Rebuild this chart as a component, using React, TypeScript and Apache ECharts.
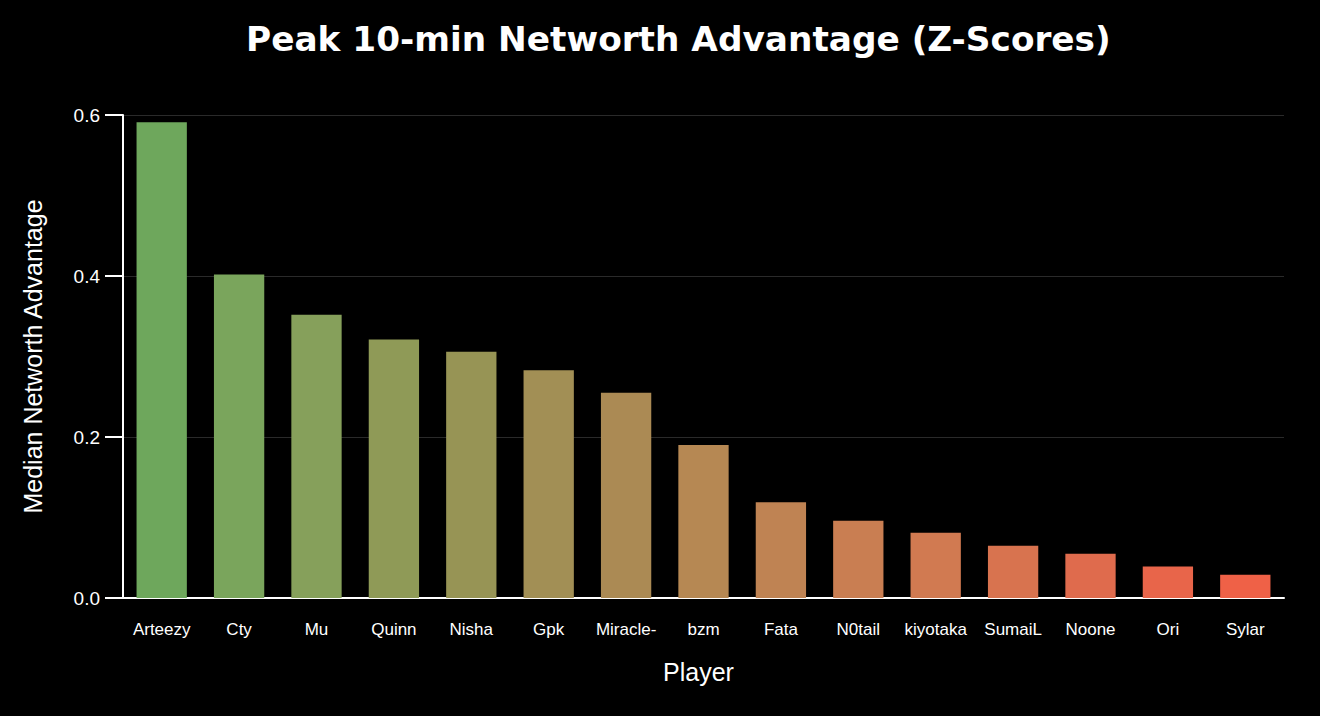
import React, { useEffect, useRef } from "react";
import * as echarts from "echarts";

const players = ["Arteezy", "Cty", "Mu", "Quinn", "Nisha", "Gpk", "Miracle-", "bzm", "Fata", "N0tail", "kiyotaka", "SumaiL", "Noone", "Ori", "Sylar"];
const medianAdvantage = [0.591, 0.402, 0.352, 0.321, 0.306, 0.283, 0.255, 0.19, 0.119, 0.096, 0.081, 0.065, 0.055, 0.039, 0.029];
const barColors = ["#6ea75c", "#7aa55c", "#86a05b", "#8f9a57", "#979455", "#a28f55", "#ab8a54", "#b68853", "#bf8353", "#c97e52", "#d17a51", "#d8734f", "#df6b4d", "#e8654a", "#ef6147"];
const yTicks = [0, 0.2, 0.4, 0.6];

export default function App() {
  const ref = useRef<HTMLDivElement>(null);
  useEffect(() => {
    document.body.style.margin = "0";
    document.body.style.background = "#000";
    const chart = echarts.init(ref.current!, null, { renderer: "svg" });
    chart.setOption({
      animation: false,
      backgroundColor: "#000000",
      title: {
        text: "Peak 10-min Networth Advantage (Z-Scores)",
        left: 241,
        top: 17,
        textStyle: { color: "#ffffff", fontFamily: "DejaVu Sans", fontWeight: "bold", fontSize: 34.3 },
      },
      grid: { left: 123, right: 36, top: 115, bottom: 118 },
      xAxis: {
        type: "category",
        data: players,
        name: "Player",
        nameLocation: "middle",
        nameGap: 61,
        nameTextStyle: { color: "#ffffff", fontFamily: "Liberation Sans", fontSize: 25, padding: [0, 10, 0, 0] },
        axisLine: { lineStyle: { color: "#ffffff", width: 2 } },
        axisTick: { show: false },
        axisLabel: { color: "#ffffff", fontFamily: "Liberation Sans", fontSize: 17, margin: 23, interval: 0 },
      },
      yAxis: {
        type: "value",
        min: 0,
        max: yTicks[yTicks.length - 1],
        interval: 0.2,
        name: "Median Networth Advantage",
        nameLocation: "middle",
        nameGap: 78,
        nameTextStyle: { color: "#ffffff", fontFamily: "Liberation Sans", fontSize: 25 },
        axisLine: { show: true, lineStyle: { color: "#ffffff", width: 2 } },
        axisTick: { show: true, length: 18, lineStyle: { color: "#ffffff", width: 2 } },
        axisLabel: { color: "#ffffff", fontFamily: "Liberation Sans", fontSize: 19, margin: 23, formatter: (v: number) => v.toFixed(1) },
        splitLine: { show: true, lineStyle: { color: "#2a2a2a", width: 1 } },
      },
      series: [
        {
          type: "bar",
          barCategoryGap: "35%",
          data: medianAdvantage.map((v, i) => ({ value: v, itemStyle: { color: barColors[i] } })),
        },
      ],
    });
    return () => chart.dispose();
  }, []);
  return <div ref={ref} style={{ width: 1320, height: 716 }} />;
}
